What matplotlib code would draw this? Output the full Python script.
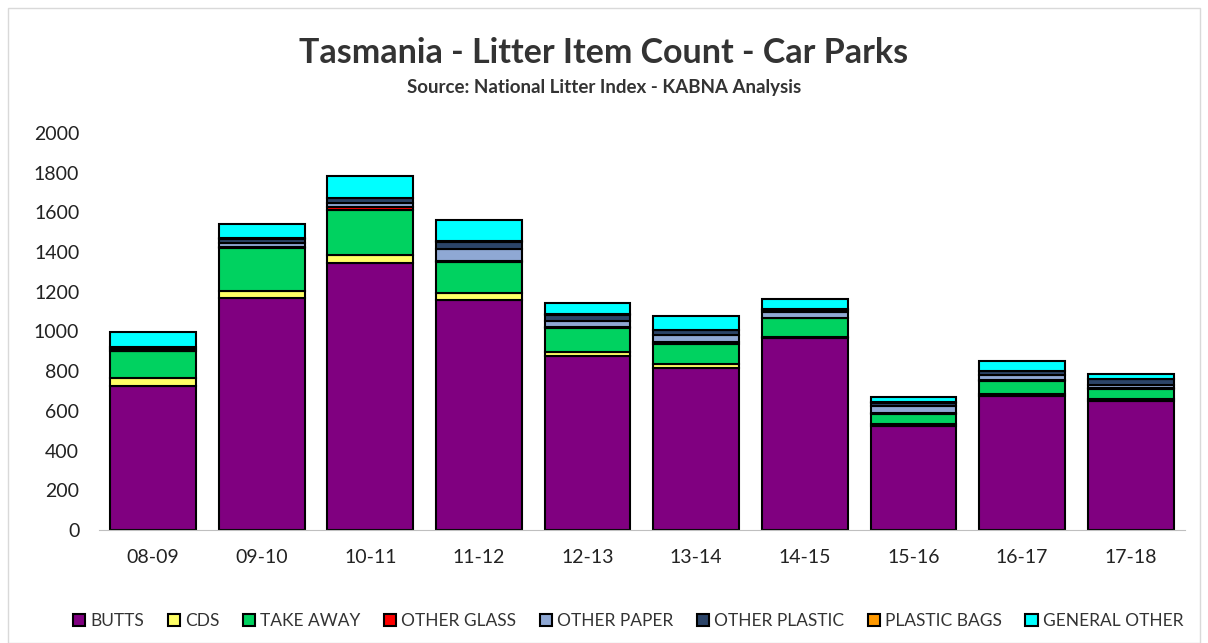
import matplotlib.pyplot as plt
import numpy as np

plt.rcParams['font.family'] = ['Lato', 'DejaVu Sans']

# data
years = ['08-09', '09-10', '10-11', '11-12', '12-13', '13-14', '14-15', '15-16', '16-17', '17-18']
butts = [725, 1168, 1347, 1158, 877, 815, 966, 526, 675, 652]
cds = [40, 38, 36, 35, 20, 22, 8, 8, 8, 8]
take_away = [135, 214, 230, 158, 122, 99, 93, 50, 69, 50]
other_glass = [3, 5, 12, 4, 3, 12, 3, 3, 3, 3]
other_paper = [8, 22, 22, 60, 30, 33, 27, 38, 26, 18]
other_plastic = [10, 20, 25, 37, 32, 27, 13, 16, 20, 28]
plastic_bags = [2, 2, 3, 2, 2, 2, 2, 2, 2, 2]
general_other = [77, 73, 106, 108, 56, 69, 51, 27, 47, 25]

series = [
    ('BUTTS', butts, '#800080'),
    ('CDS', cds, '#FFFF66'),
    ('TAKE AWAY', take_away, '#00D260'),
    ('OTHER GLASS', other_glass, '#FF0000'),
    ('OTHER PAPER', other_paper, '#8FA8D4'),
    ('OTHER PLASTIC', other_plastic, '#2B4468'),
    ('PLASTIC BAGS', plastic_bags, '#FF9900'),
    ('GENERAL OTHER', general_other, '#00FFFF'),
]

fig = plt.figure(figsize=(12.08, 6.43), dpi=100)
ax = fig.add_axes([98.7 / 1208, 1 - 530 / 643, (1185 - 98.7) / 1208, 397 / 643])

x = np.arange(len(years))
bottom = np.zeros(len(years))
for name, vals, col in series:
    ax.bar(x, vals, 0.79, bottom=bottom, color=col, edgecolor='black', linewidth=1.5, label=name)
    bottom += np.array(vals)

ax.set_ylim(0, 2000)
ax.set_xlim(-0.5, len(years) - 0.5)
ax.set_yticks(range(0, 2001, 200))
ax.set_xticks(x)
ax.set_xticklabels(years)
ax.tick_params(axis='both', labelsize=14, length=0, colors='#222222')
ax.tick_params(axis='x', pad=14)
ax.tick_params(axis='y', pad=14)
for s in ['top', 'right', 'left']:
    ax.spines[s].set_visible(False)
ax.spines['bottom'].set_color('#bfbfbf')

fig.text(0.5, 1 - 53 / 643, 'Tasmania - Litter Item Count - Car Parks', ha='center', va='center',
         fontsize=24.5, fontweight='bold', color='#333333')
fig.text(0.5, 1 - 88 / 643, 'Source: National Litter Index - KABNA Analysis', ha='center', va='center',
         fontsize=13.5, fontweight='bold', color='#333333')

leg = fig.legend(loc='center', bbox_to_anchor=(0.52, 1 - 621 / 643), ncol=8, frameon=False,
                 fontsize=12.5, handlelength=0.7, handleheight=0.7, handletextpad=0.3, columnspacing=1.35)
for t in leg.get_texts():
    t.set_color('#333333')

fig.patches.append(plt.Rectangle((8 / 1208, 0), 1 - 16 / 1208, 1 - 8 / 643, transform=fig.transFigure,
                                 fill=False, edgecolor='#d9d9d9', linewidth=1))

fig.savefig('out.png', dpi=100)
